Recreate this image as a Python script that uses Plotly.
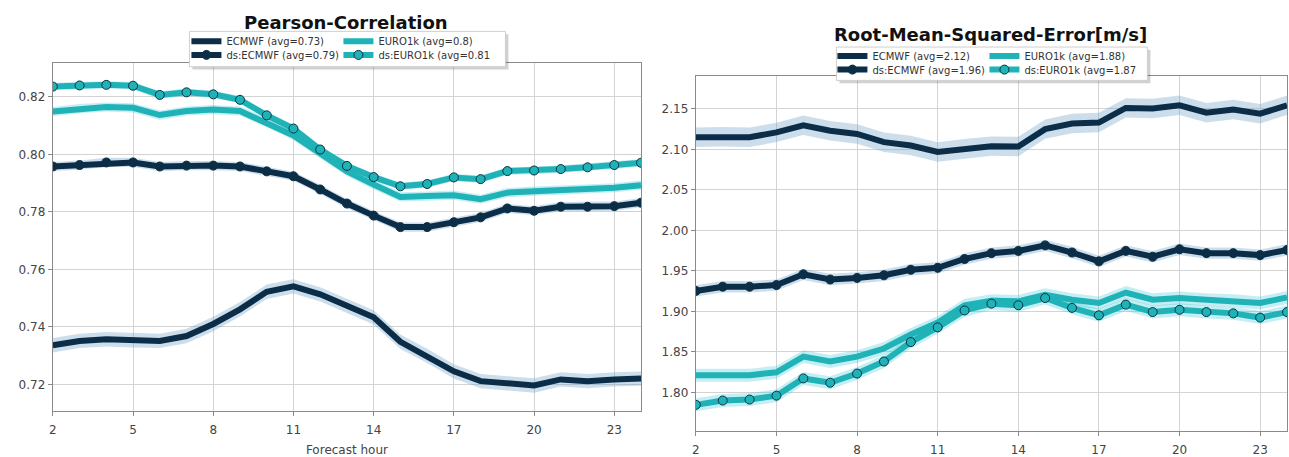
import plotly.graph_objects as go
import numpy as np

# ---------------- data ----------------
hours = list(range(2, 25))

# Pearson correlation
pc_ecmwf = [0.7336, 0.7351, 0.7357, 0.7353, 0.7351, 0.7368, 0.7410, 0.7461, 0.7522, 0.7541,
            0.7513, 0.7473, 0.7433, 0.7348, 0.7299, 0.7245, 0.7211, 0.7203, 0.7196, 0.7217,
            0.7211, 0.7217, 0.7220]
pc_euro1k = [0.8149, 0.8159, 0.8165, 0.8162, 0.8137, 0.8151, 0.8156, 0.8151, 0.8111, 0.8066,
             0.8003, 0.7941, 0.7895, 0.7852, 0.7855, 0.7858, 0.7844, 0.7867, 0.7872, 0.7876,
             0.7879, 0.7884, 0.7893]
pc_ds_ecmwf = [0.7958, 0.7963, 0.7972, 0.7972, 0.7958, 0.7961, 0.7961, 0.7958, 0.7941, 0.7924,
               0.7878, 0.7829, 0.7787, 0.7747, 0.7747, 0.7764, 0.7781, 0.7812, 0.7804, 0.7818,
               0.7818, 0.7820, 0.7832]
pc_ds_euro1k = [0.8236, 0.8240, 0.8242, 0.8239, 0.8207, 0.8216, 0.8209, 0.8190, 0.8136, 0.8090,
                0.8017, 0.7960, 0.7921, 0.7889, 0.7897, 0.7920, 0.7914, 0.7942, 0.7944, 0.7949,
                0.7955, 0.7963, 0.7971]
pc_spread = {"ECMWF": 0.0025, "EURO1k": 0.0016, "ds:ECMWF": 0.0016, "ds:EURO1k": 0.0013}
pc_avg = {"ECMWF": "0.73", "EURO1k": "0.8", "ds:ECMWF": "0.79", "ds:EURO1k": "0.81"}

# Root mean squared error [m/s]
rmse_ecmwf = [2.1149, 2.1157, 2.1149, 2.1210, 2.1298, 2.1230, 2.1190, 2.1089, 2.1048, 2.0968,
              2.1008, 2.1040, 2.1036, 2.1250, 2.1319, 2.1331, 2.1512, 2.1504, 2.1544, 2.1452,
              2.1492, 2.1440, 2.1544]
rmse_euro1k = [1.8213, 1.8213, 1.8213, 1.8249, 1.8442, 1.8382, 1.8442, 1.8542, 1.8715, 1.8863,
               1.9076, 1.9133, 1.9124, 1.9205, 1.9145, 1.9104, 1.9233, 1.9145, 1.9165, 1.9145,
               1.9133, 1.9104, 1.9173]
rmse_ds_ecmwf = [1.9253, 1.9305, 1.9305, 1.9325, 1.9458, 1.9394, 1.9414, 1.9446, 1.9514, 1.9538,
                 1.9647, 1.9719, 1.9747, 1.9815, 1.9727, 1.9618, 1.9747, 1.9675, 1.9767, 1.9719,
                 1.9719, 1.9695, 1.9759]
rmse_ds_euro1k = [1.7847, 1.7900, 1.7912, 1.7960, 1.8173, 1.8120, 1.8233, 1.8382, 1.8622, 1.8803,
                  1.9012, 1.9096, 1.9076, 1.9165, 1.9044, 1.8952, 1.9084, 1.8992, 1.9020, 1.8992,
                  1.8976, 1.8924, 1.8992]
rmse_spread = {"ECMWF": 0.012, "EURO1k": 0.008, "ds:ECMWF": 0.007, "ds:EURO1k": 0.008}
rmse_avg = {"ECMWF": "2.12", "EURO1k": "1.88", "ds:ECMWF": "1.96", "ds:EURO1k": "1.87"}

pc_xticks = [2, 5, 8, 11, 14, 17, 20, 23]
pc_yticks = [0.72, 0.74, 0.76, 0.78, 0.80, 0.82]
rmse_yticks = [1.80, 1.85, 1.90, 1.95, 2.00, 2.05, 2.10, 2.15]

# ---------------- style ----------------
W, H = 1289, 457
NAVY = "#0c2d47"
TEAL = "#1fb3b7"
NAVY_BAND = "rgba(110,160,200,0.35)"
TEAL_BAND = "rgba(60,200,215,0.30)"
FONT = "DejaVu Sans"

def px_x(p):
    return p / W

def px_y(p):
    return 1 - p / H

fig = go.Figure()

def add_panel(xa, ya, series, spread, avg, leg_a, leg_b):
    # bands
    for name, vals, band in series:
        v = np.array(vals)
        s = spread[name]
        fig.add_trace(go.Scatter(
            x=hours + hours[::-1], y=list(v + s) + list((v - s)[::-1]),
            fill="toself", fillcolor=band, line=dict(width=0),
            hoverinfo="skip", showlegend=False, xaxis=xa, yaxis=ya))
    # lines
    for name, vals, band in series:
        is_ds = name.startswith("ds:")
        color = NAVY if "ECMWF" in name else TEAL
        fig.add_trace(go.Scatter(
            x=hours, y=vals, name=f"{name} (avg={avg[name]})",
            mode="lines+markers" if is_ds else "lines",
            line=dict(color=color, width=6),
            marker=dict(size=9, color=color, line=dict(color="#0a3344", width=1)),
            legend=leg_b if is_ds else leg_a,
            xaxis=xa, yaxis=ya))

pc_series = [("ECMWF", pc_ecmwf, NAVY_BAND), ("EURO1k", pc_euro1k, TEAL_BAND),
             ("ds:ECMWF", pc_ds_ecmwf, NAVY_BAND), ("ds:EURO1k", pc_ds_euro1k, TEAL_BAND)]
rmse_series = [("ECMWF", rmse_ecmwf, NAVY_BAND), ("EURO1k", rmse_euro1k, TEAL_BAND),
               ("ds:ECMWF", rmse_ds_ecmwf, NAVY_BAND), ("ds:EURO1k", rmse_ds_euro1k, TEAL_BAND)]

add_panel("x", "y", pc_series, pc_spread, pc_avg, "legend", "legend2")
add_panel("x2", "y2", rmse_series, rmse_spread, rmse_avg, "legend3", "legend4")

axis_common = dict(showgrid=True, gridcolor="#d3d3d3", gridwidth=1, zeroline=False,
                   showline=True, linecolor="#8a8a8a", linewidth=1.3, mirror=True,
                   ticks="outside", ticklen=4, tickcolor="#8a8a8a",
                   tickfont=dict(family=FONT, size=12, color="#444444"))

leg_common = dict(orientation="h", bgcolor="rgba(0,0,0,0)", borderwidth=0,
                  font=dict(family=FONT, size=10, color="#333333"),
                  xanchor="left", yanchor="middle", entrywidth=107, entrywidthmode="pixels",
                  itemwidth=30)

fig.update_layout(
    width=W, height=H, margin=dict(l=0, r=0, t=0, b=0),
    paper_bgcolor="white", plot_bgcolor="white",
    xaxis=dict(domain=[px_x(49), px_x(639)], range=[2, 24], tickvals=pc_xticks,
               anchor="y", ticklabelstandoff=4,
               title=dict(text="Forecast hour", font=dict(family=FONT, size=12, color="#444444"),
                          standoff=10),
               **axis_common),
    yaxis=dict(domain=[px_y(419), px_y(64)], range=[0.7108, 0.8319], tickvals=pc_yticks,
               ticktext=[f"{v:.2f}" for v in pc_yticks], anchor="x", **axis_common),
    xaxis2=dict(domain=[px_x(694), px_x(1287)], range=[2, 24], tickvals=pc_xticks,
                anchor="y2", ticklabelstandoff=3, **axis_common),
    yaxis2=dict(domain=[px_y(440), px_y(78)], range=[1.752, 2.190], tickvals=rmse_yticks,
                ticktext=[f"{v:.2f}" for v in rmse_yticks], anchor="x2", **axis_common),
    legend=dict(x=px_x(183), y=px_y(42), **leg_common),
    legend2=dict(x=px_x(183), y=px_y(56), **leg_common),
    legend3=dict(x=px_x(831), y=px_y(57), **leg_common),
    legend4=dict(x=px_x(831), y=px_y(71), **leg_common),
    showlegend=True,
)

# titles
fig.add_annotation(text="<b>Pearson-Correlation</b>", x=px_x(343), y=px_y(23), xref="paper", yref="paper",
                   showarrow=False, xanchor="center", yanchor="middle",
                   font=dict(family=FONT, size=18, color="#111111"))
fig.add_annotation(text="<b>Root-Mean-Squared-Error[m/s]</b>", x=px_x(990), y=px_y(35), xref="paper",
                   yref="paper", showarrow=False, xanchor="center", yanchor="middle",
                   font=dict(family=FONT, size=18, color="#111111"))

# legend frames (with shadow)
for (x0, y0, x1, y1) in [(186, 32, 503, 68), (835, 48, 1147, 82)]:
    fig.add_shape(type="rect", xref="paper", yref="paper", layer="above",
                  x0=px_x(x0 + 3), x1=px_x(x1 + 3), y0=px_y(y1 + 3), y1=px_y(y0 + 3),
                  fillcolor="rgba(0,0,0,0.18)", line=dict(width=0))
    fig.add_shape(type="rect", xref="paper", yref="paper", layer="above",
                  x0=px_x(x0), x1=px_x(x1), y0=px_y(y1), y1=px_y(y0),
                  fillcolor="white", line=dict(color="#cfcfcf", width=1))

fig.write_html("out.html")
